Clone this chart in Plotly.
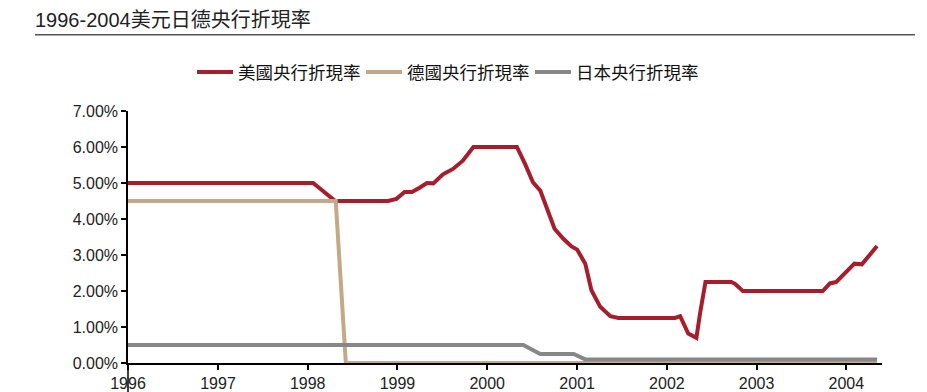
import plotly.graph_objects as go

# ---- data ----
us_dates = ["1996-01-01", "1998-01-23", "1998-02-21", "1998-04-01", "1998-04-23",
            "1998-11-24", "1998-12-28", "1999-01-30", "1999-03-01", "1999-04-01",
            "1999-05-01", "1999-05-27", "1999-07-05", "1999-08-15", "1999-09-24",
            "1999-11-06", "2000-04-16", "2000-05-01", "2000-06-03", "2000-07-05",
            "2000-08-04", "2000-08-29", "2000-10-01", "2000-11-06", "2000-12-09",
            "2001-01-01", "2001-02-03", "2001-02-28", "2001-04-05", "2001-05-16",
            "2001-06-18", "2002-02-03", "2002-02-24", "2002-03-29", "2002-05-01",
            "2002-05-16", "2002-06-07", "2002-07-02", "2002-09-20", "2002-10-05",
            "2002-11-06", "2003-09-27", "2003-10-26", "2003-11-21", "2003-12-24",
            "2004-02-03", "2004-03-04", "2004-05-05"]
us_rate = [5.00, 5.00, 4.84, 4.61, 4.50,
           4.50, 4.56, 4.75, 4.75, 4.87,
           5.00, 4.99, 5.24, 5.39, 5.62,
           6.00, 6.00, 6.00, 5.53, 5.02,
           4.79, 4.33, 3.73, 3.45, 3.24,
           3.15, 2.76, 2.02, 1.56, 1.30,
           1.25, 1.25, 1.30, 0.82, 0.70,
           1.38, 2.25, 2.25, 2.25, 2.20,
           2.00, 2.00, 2.21, 2.25, 2.48,
           2.76, 2.74, 3.25]

de_dates = ["1996-01-01", "1998-04-25", "1998-06-05", "2004-05-05"]
de_rate = [4.50, 4.50, 0.00, 0.00]

jp_dates = ["1996-01-01", "2000-05-27", "2000-08-04", "2000-12-18", "2001-02-03", "2004-05-05"]
jp_rate = [0.50, 0.50, 0.25, 0.25, 0.10, 0.10]

names = ["美國央行折現率", "德國央行折現率", "日本央行折現率"]
colors = ["#A61E2B", "#C4A987", "#878787"]

y_ticks = [0, 1, 2, 3, 4, 5, 6, 7]
y_ticktext = ["0.00%", "1.00%", "2.00%", "3.00%", "4.00%", "5.00%", "6.00%", "7.00%"]
x_ticks = ["1996-01-01", "1997-01-01", "1998-01-01", "1999-01-01", "2000-01-01",
           "2001-01-01", "2002-01-01", "2003-01-01", "2004-01-01"]
x_ticktext = ["1996", "1997", "1998", "1999", "2000", "2001", "2002", "2003", "2004"]

title_text = "1996-2004美元日德央行折現率"

FONT = "Liberation Sans, Arial, Noto Sans CJK TC, sans-serif"

fig = go.Figure()
for xs, ys, nm, col in [(us_dates, us_rate, names[0], colors[0]),
                        (de_dates, de_rate, names[1], colors[1]),
                        (jp_dates, jp_rate, names[2], colors[2])]:
    fig.add_trace(go.Scatter(x=xs, y=ys, name=nm, mode="lines",
                             line=dict(color=col, width=4, shape="linear"),
                             cliponaxis=False))

# the page body adds an 8px offset; the figure is laid out in its own pixels
OFF = 8
W, H = 927 - OFF, 392 - OFF
L, T = 128 - OFF, 111 - OFF
B = H - (363 - OFF)
R = W - (882 - OFF)
pw = W - L - R
ph = H - T - B


def px_x(sx):
    return (sx - OFF - L) / pw


def px_y(sy):
    return (H - B - (sy - OFF)) / ph


fig.update_layout(
    width=W, height=H,
    margin=dict(l=L, r=R, t=T, b=B, autoexpand=False),
    paper_bgcolor="white", plot_bgcolor="white",
    font=dict(family=FONT, size=16, color="#222222"),
    showlegend=True,
    legend=dict(orientation="h", x=px_x(197) - 5 / pw, xanchor="left",
                y=px_y(72), yanchor="middle",
                font=dict(size=17.5, color="#111111"),
                entrywidth=118, entrywidthmode="pixels",
                itemwidth=36, bgcolor="rgba(0,0,0,0)", traceorder="normal"),
    title=dict(text=title_text, x=(35 - OFF) / W, xanchor="left", xref="container",
               y=1 - (20 - OFF) / H, yanchor="middle", yref="container",
               pad=dict(l=0, r=0, t=0, b=0),
               font=dict(size=20, color="#222222")),
    xaxis=dict(type="date", range=["1996-01-01", "2004-05-25"],
               tickvals=x_ticks, ticktext=x_ticktext,
               showgrid=False, zeroline=False,
               showline=True, linecolor="black", linewidth=1.5,
               ticks="outside", ticklen=5, tickcolor="black", tickwidth=1.5,
               tickfont=dict(size=16, color="#222222")),
    yaxis=dict(range=[0, 7], tickvals=y_ticks, ticktext=y_ticktext,
               showgrid=False, zeroline=False,
               showline=True, linecolor="black", linewidth=1.5,
               ticks="outside", ticklen=5, tickcolor="black", tickwidth=1.5,
               tickfont=dict(size=16, color="#222222")),
)

# title underline
fig.add_shape(type="line", xref="paper", yref="paper",
              x0=px_x(35), x1=px_x(915), y0=px_y(34.7), y1=px_y(34.7),
              line=dict(color="#555555", width=1.5))
# y-axis line extension below x-axis (as in the reference)
fig.add_shape(type="line", xref="paper", yref="paper",
              x0=0, x1=0, y0=0, y1=-B / ph,
              line=dict(color="black", width=1.5))

fig.write_html("out.html")
